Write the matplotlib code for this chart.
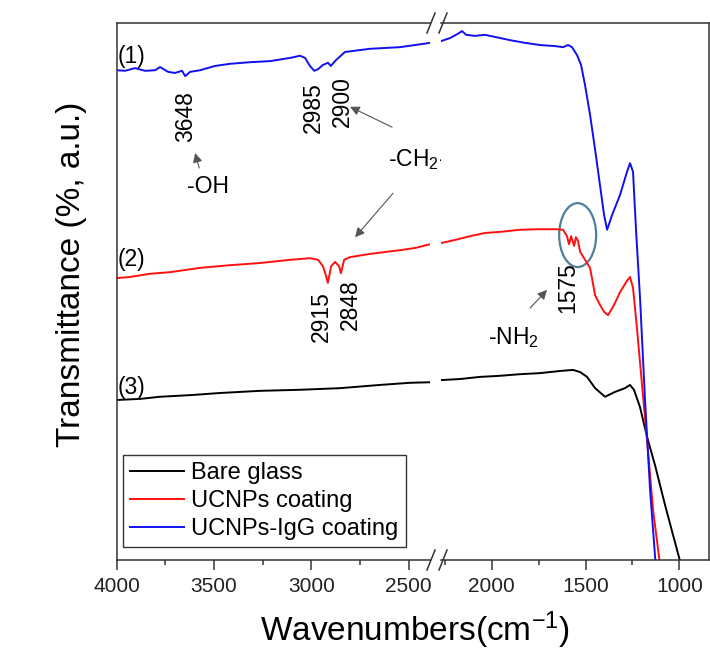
import matplotlib
matplotlib.use("Agg")
import matplotlib.pyplot as plt
from matplotlib.patches import Ellipse

plt.rcParams['font.family'] = ['Liberation Sans', 'DejaVu Sans']
plt.rcParams['mathtext.fontset'] = 'custom'
plt.rcParams['mathtext.rm'] = 'Liberation Sans'
plt.rcParams['mathtext.default'] = 'regular'

# FTIR spectra (wavenumber in cm-1, transmittance in a.u.)
wn_igg = [4000, 3957, 3906, 3855, 3803, 3777, 3736, 3700, 3664, 3648, 3623, 3572,
          3495, 3418, 3315, 3212, 3109, 3058, 3032, 3007, 2985, 2965, 2940, 2914,
          2900, 2873, 2827, 2698, 2544, 2390,
          2272, 2222, 2180, 2158, 2137, 2089, 2036, 1982, 1902, 1822, 1743, 1663,
          1620, 1593, 1572, 1545, 1524, 1503, 1476, 1449, 1423, 1401, 1385, 1359,
          1316, 1279, 1263, 1247, 1231, 1209, 1183, 1156, 1124]
t_igg = [91.2, 91.1, 91.6, 91.1, 91.2, 91.8, 90.9, 90.7, 91.1, 90.1, 90.9, 91.2,
         92.0, 92.4, 92.7, 92.9, 93.5, 93.9, 93.5, 92.0, 91.1, 91.4, 92.2, 92.6,
         92.0, 93.1, 94.6, 95.2, 95.5, 96.3,
         96.6, 97.2, 98.0, 98.5, 97.8, 97.6, 97.8, 97.4, 96.8, 96.3, 95.9, 95.7,
         95.5, 95.9, 95.5, 94.0, 92.2, 88.5, 82.9, 76.4, 69.8, 64.2, 61.5, 64.2,
         68.0, 72.3, 73.9, 72.3, 61.5, 48.4, 29.8, 13.0, -1.9]

wn_ucnp = [4000, 3932, 3829, 3726, 3572, 3418, 3264, 3109, 3007, 2965, 2940, 2924,
           2915, 2898, 2878, 2857, 2848, 2831, 2801, 2698, 2544, 2467, 2390,
           2272, 2196, 2116, 2036, 1956, 1849, 1743, 1663, 1620, 1599, 1588, 1577,
           1561, 1551, 1540, 1529, 1508, 1476, 1449, 1423, 1401, 1380, 1348, 1316,
           1279, 1263, 1247, 1225, 1199, 1172, 1140, 1103]
t_ucnp = [52.5, 52.7, 53.3, 53.6, 54.4, 54.9, 55.3, 55.9, 56.2, 55.9, 54.7, 52.9,
          51.6, 54.7, 55.5, 54.7, 53.4, 55.9, 56.4, 57.0, 57.7, 58.1, 58.8,
          59.0, 59.6, 60.3, 60.9, 61.1, 61.5, 61.6, 61.6, 61.5, 60.3, 58.8, 60.3,
          58.5, 60.1, 59.4, 57.4, 56.2, 54.4, 49.3, 47.5, 46.2, 45.6, 47.5, 49.9,
          52.0, 52.7, 50.7, 42.8, 32.6, 22.3, 9.3, -0.9]

wn_glass = [4000, 3880, 3777, 3623, 3469, 3264, 3058, 2852, 2647, 2493, 2390,
            2272, 2169, 2062, 1956, 1849, 1743, 1636, 1567, 1529, 1492, 1449,
            1396, 1343, 1290, 1263, 1242, 1210, 1172, 1130, 1076, 1034, 991]
t_glass = [29.8, 30.0, 30.4, 30.7, 31.1, 31.5, 31.7, 32.0, 32.6, 33.0, 33.1,
           33.5, 33.7, 34.1, 34.3, 34.6, 34.8, 35.2, 35.4, 35.0, 34.1, 32.0,
           30.4, 31.3, 32.0, 32.6, 31.7, 28.5, 22.9, 17.7, 10.2, 4.7, -0.9]

series = [("Bare glass", wn_glass, t_glass, "black"),
          ("UCNPs coating", wn_ucnp, t_ucnp, "#ff1010"),
          ("UCNPs-IgG coating", wn_igg, t_igg, "#1010f0")]

W, H = 710, 652
fig = plt.figure(figsize=(W / 100, H / 100), dpi=100)


def fx(px):
    return px / W


def fy(py):
    return 1 - py / H


bottom, top = fy(560), fy(23)
ax1 = fig.add_axes([fx(116.7), bottom, fx(430) - fx(116.7), top - bottom])
ax2 = fig.add_axes([fx(440.7), bottom, fx(709) - fx(440.7), top - bottom])

for ax in (ax1, ax2):
    for name, wn, t, c in series:
        ax.plot(wn, t, color=c, lw=1.4, label=name)
    ax.set_ylim(0, 100)
    ax.set_yticks([])
    for s in ax.spines.values():
        s.set_linewidth(1.1)
        s.set_color('#333333')
    ax.tick_params(axis='x', which='major', direction='out', length=7, width=1.1,
                   labelsize=15, pad=5, colors='#333333', labelcolor='#222222')
    ax.tick_params(axis='x', which='minor', direction='out', length=3.6, width=1.1,
                   colors='#333333')

ax1.set_xlim(4000, 2390)
ax2.set_xlim(2272, 842)
ax1.spines['right'].set_visible(False)
ax2.spines['left'].set_visible(False)
ax1.set_xticks([4000, 3500, 3000, 2500])
ax1.set_xticks([3750, 3250, 2750], minor=True)
ax2.set_xticks([2000, 1500, 1000])
ax2.set_xticks([2250, 1750, 1250], minor=True)

# axis break marks
for yb in (560, 23):
    for xb in (431, 443):
        fig.add_artist(plt.Line2D([fx(xb - 4), fx(xb + 4)], [fy(yb + 10), fy(yb - 10)],
                                  color='#333333', lw=1.1))

# labels
fig.text(fx(415), fy(630), "Wavenumbers(cm$^{-1}$)", fontsize=24, ha='center', va='center')
fig.text(fx(72), fy(274), "Transmittance (%, a.u.)", fontsize=24, rotation=90,
         ha='center', va='center')

fs = 16.5
ax1.text(3926, 93.7, "(1)", fontsize=fs, ha='center', va='center')
ax1.text(3926, 55.9, "(2)", fontsize=fs, ha='center', va='center')
ax1.text(3926, 32.2, "(3)", fontsize=fs, ha='center', va='center')

ax1.text(3648, 82.5, "3648", fontsize=fs, rotation=90, ha='center', va='center')
ax1.text(2990, 84.2, "2985", fontsize=fs, rotation=90, ha='center', va='center')
ax1.text(2842, 85.3, "2900", fontsize=fs, rotation=90, ha='center', va='center')
ax1.text(2950, 45.3, "2915", fontsize=fs, rotation=90, ha='center', va='center')
ax1.text(2801, 47.5, "2848", fontsize=fs, rotation=90, ha='center', va='center')
ax2.text(1593, 50.7, "1575", fontsize=fs, rotation=90, ha='center', va='center')

ax1.text(3530, 69.5, "-OH", fontsize=fs, ha='center', va='center')
ax1.text(2452, 74.5, r"-CH$_2\text{-}$", fontsize=fs, ha='center', va='center')
ax2.text(1882, 41.4, "-NH$_2$", fontsize=fs, ha='center', va='center')

arrow = dict(arrowstyle='-|>', color='#555555', lw=0.8, mutation_scale=14,
             shrinkA=0, shrinkB=0)
ax1.annotate("", xy=(3597, 75.8), xytext=(3576, 73.0), arrowprops=arrow)
ax1.annotate("", xy=(2801, 84.4), xytext=(2585, 80.6), arrowprops=arrow,
             annotation_clip=False)
ax1.annotate("", xy=(2775, 60.1), xytext=(2580, 68.3), arrowprops=arrow)
ax2.annotate("", xy=(1705, 50.3), xytext=(1796, 46.9), arrowprops=arrow)

ax2.add_patch(Ellipse((1542, 60.5), 197, 11.9, fill=False, ec='#4f7f9a', lw=1.6))

ax1.legend(loc='lower left', bbox_to_anchor=(fx(123), fy(547)),
           bbox_transform=fig.transFigure, fontsize=17, frameon=True,
           fancybox=False, edgecolor='#333333', framealpha=1, borderaxespad=0,
           handlelength=2.3, handletextpad=0.3, labelspacing=0.25, borderpad=0.3)

fig.savefig("out.png", dpi=100)
